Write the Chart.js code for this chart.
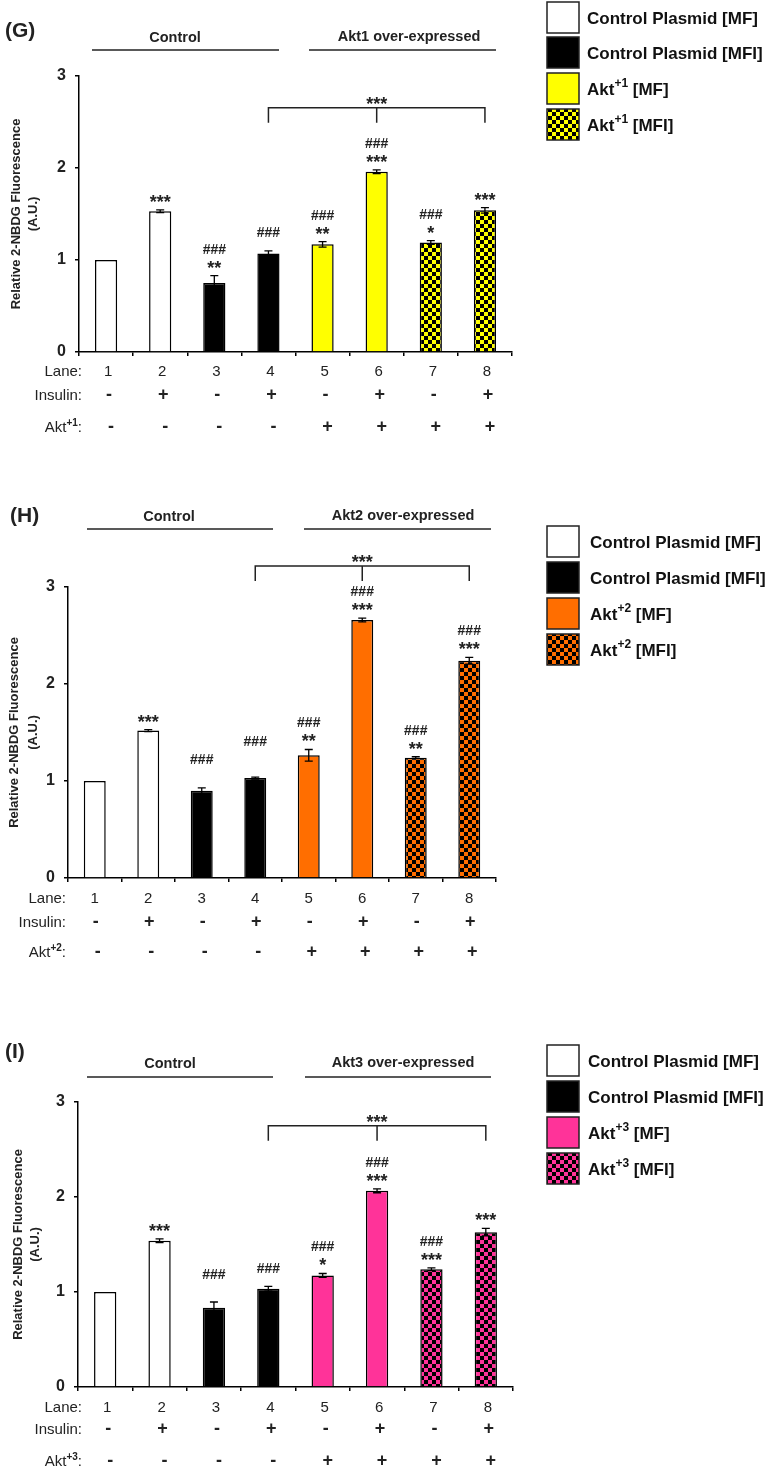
<!DOCTYPE html>
<html lang="en">
<head>
<meta charset="UTF-8">
<title>Relative 2-NBDG Fluorescence - Akt over-expression</title>
<script src="https://cdn.jsdelivr.net/npm/chart.js"></script>
<style>
    body { margin: 0; background: #fff; }
    .page { position: relative; width: 770px; height: 1472px; }
    .page canvas { position: absolute; left: 0; }
</style>
</head>
<body>
<div class="page">
    <canvas id="chartG" width="770" height="480" style="top:0px"></canvas>
    <canvas id="chartH" width="770" height="500" style="top:480px"></canvas>
    <canvas id="chartI" width="770" height="492" style="top:980px"></canvas>
</div>
<script>
// ---- data ----
const lanes = ['1', '2', '3', '4', '5', '6', '7', '8'];
const insulinRow = ['-', '+', '-', '+', '-', '+', '-', '+'];
const aktRow = ['-', '-', '-', '-', '+', '+', '+', '+'];
const laneGroup = [0, 0, 1, 1, 2, 2, 3, 3];   // which legend entry each lane belongs to
const yTicks = [0, 1, 2, 3];
const yTitle = ['Relative 2-NBDG Fluorescence', '(A.U.)'];
const bracketLanes = [3, 5, 7];
const bracketMark = '***';

const akt1Values = [1.00, 1.53, 0.75, 1.07, 1.17, 1.96, 1.19, 1.54];
const akt1Errors = [0, 0.015, 0.08, 0.03, 0.03, 0.02, 0.02, 0.03];
const akt1Marks = [[], ['***'], ['###', '**'], ['###'], ['###', '**'], ['###', '***'], ['###', '*'], ['***']];
const akt1Legend = ['Control Plasmid [MF]', 'Control Plasmid [MFI]', 'Akt^+1^ [MF]', 'Akt^+1^ [MFI]'];
const akt1Groups = ['Control', 'Akt1 over-expressed'];
const akt1RowLabels = ['Lane:', 'Insulin:', 'Akt^+1^:'];

const akt2Values = [1.00, 1.52, 0.90, 1.03, 1.265, 2.66, 1.24, 2.24];
const akt2Errors = [0, 0.01, 0.03, 0.01, 0.06, 0.02, 0.01, 0.035];
const akt2Marks = [[], ['***'], ['###'], ['###'], ['###', '**'], ['###', '***'], ['###', '**'], ['###', '***']];
const akt2Legend = ['Control Plasmid [MF]', 'Control Plasmid [MFI]', 'Akt^+2^ [MF]', 'Akt^+2^ [MFI]'];
const akt2Groups = ['Control', 'Akt2 over-expressed'];
const akt2RowLabels = ['Lane:', 'Insulin:', 'Akt^+2^:'];

const akt3Values = [1.00, 1.54, 0.835, 1.035, 1.175, 2.065, 1.24, 1.63];
const akt3Errors = [0, 0.02, 0.06, 0.025, 0.02, 0.02, 0.015, 0.04];
const akt3Marks = [[], ['***'], ['###'], ['###'], ['###', '*'], ['###', '***'], ['###', '***'], ['***']];
const akt3Legend = ['Control Plasmid [MF]', 'Control Plasmid [MFI]', 'Akt^+3^ [MF]', 'Akt^+3^ [MFI]'];
const akt3Groups = ['Control', 'Akt3 over-expressed'];
const akt3RowLabels = ['Lane:', 'Insulin:', 'Akt^+3^:'];

const FONT = '"Liberation Sans", Arial, sans-serif';
Chart.defaults.font.family = FONT;

// black / colour checker fill for the MFI bars
function checker(color) {
    const c = document.createElement('canvas');
    c.width = 8; c.height = 8;
    const g = c.getContext('2d');
    g.fillStyle = color; g.fillRect(0, 0, 8, 8);
    g.fillStyle = '#000'; g.fillRect(0, 0, 4, 4); g.fillRect(4, 4, 4, 4);
    return g.createPattern(c, 'repeat');
}

// text with ^superscript^ parts, drawn with textBaseline middle
function richText(ctx, str, x, y, size, weight, align) {
    const parts = str.split('^');
    const fonts = parts.map((_, k) => k % 2 ? `bold ${Math.round(size * 0.68)}px ${FONT}` : `${weight} ${size}px ${FONT}`);
    let w = 0;
    parts.forEach((t, k) => { ctx.font = fonts[k]; w += ctx.measureText(t).width; });
    let cx = align === 'right' ? x - w : align === 'center' ? x - w / 2 : x;
    ctx.textAlign = 'left';
    ctx.textBaseline = 'middle';
    parts.forEach((t, k) => {
        ctx.font = fonts[k];
        ctx.fillText(t, cx, k % 2 ? y - size * 0.35 : y);
        cx += ctx.measureText(t).width;
    });
}

const panels = [
    { id: 'chartG', top: 0, height: 480, area: { left: 79, right: 512, top: 76, bottom: 352 },
      letter: '(G)', letterX: 5, letterY: 31, color: '#ffff00',
      values: akt1Values, errors: akt1Errors, marks: akt1Marks, legend: akt1Legend, groups: akt1Groups, rowLabels: akt1RowLabels,
      heads: [{ x: 175, y: 38, from: 92, to: 279 }, { x: 409, y: 37, from: 309, to: 496 }], headLineY: 50,
      yTitleX: [16.5, 33], legendX: 547, legendTextX: 587, legendTops: [2, 37, 73, 109], bracketAt: 2.655,
      rowDy: [20, 44, 76], labelX: 82, shift: 2, lift: [0, 0, 0, 7, 0, 0, 0, 0] },
    { id: 'chartH', top: 480, height: 500, area: { left: 68, right: 496, top: 587, bottom: 878 },
      letter: '(H)', letterX: 10, letterY: 516, color: '#ff6e00',
      values: akt2Values, errors: akt2Errors, marks: akt2Marks, legend: akt2Legend, groups: akt2Groups, rowLabels: akt2RowLabels,
      heads: [{ x: 169, y: 517, from: 87, to: 273 }, { x: 403, y: 516, from: 304, to: 491 }], headLineY: 529,
      yTitleX: [14, 33], legendX: 547, legendTextX: 590, legendTops: [526, 562, 598, 634], bracketAt: 3.216,
      rowDy: [21, 45, 75], labelX: 66, shift: 0, lift: [0, 0, 17, 24, 0, 0, 0, 0] },
    { id: 'chartI', top: 980, height: 492, area: { left: 78, right: 513, top: 1102, bottom: 1387 },
      letter: '(I)', letterX: 5, letterY: 1052, color: '#ff3399',
      values: akt3Values, errors: akt3Errors, marks: akt3Marks, legend: akt3Legend, groups: akt3Groups, rowLabels: akt3RowLabels,
      heads: [{ x: 170, y: 1064, from: 87, to: 273 }, { x: 403, y: 1063, from: 305, to: 491 }], headLineY: 1077,
      yTitleX: [18, 35], legendX: 547, legendTextX: 588, legendTops: [1045, 1081, 1117, 1153], bracketAt: 2.75,
      rowDy: [21, 43, 75], labelX: 82, shift: 2, lift: [0, 0, 16, 6, 0, 0, 0, 0] }
];

function makePlugin(p, fills) {
    return {
        id: 'figure',
        afterDatasetsDraw(chart) {
            // error bars
            const ctx = chart.ctx, x = chart.scales.x, y = chart.scales.y;
            ctx.save();
            ctx.strokeStyle = '#000';
            ctx.lineWidth = 1.3;
            p.values.forEach((v, i) => {
                const e = p.errors[i];
                if (!e) return;
                const px = x.getPixelForValue(i);
                const top = y.getPixelForValue(v + e), bot = y.getPixelForValue(v - e);
                ctx.beginPath();
                ctx.moveTo(px, top); ctx.lineTo(px, bot);
                ctx.moveTo(px - 4, top); ctx.lineTo(px + 4, top);
                ctx.moveTo(px - 4, bot); ctx.lineTo(px + 4, bot);
                ctx.stroke();
            });
            ctx.restore();
        },
        afterDraw(chart) {
            const ctx = chart.ctx, x = chart.scales.x, y = chart.scales.y, a = chart.chartArea;
            const T = p.top;
            ctx.save();
            ctx.fillStyle = '#222';
            ctx.strokeStyle = '#222';

            // panel letter
            ctx.font = `bold 21px ${FONT}`;
            ctx.textAlign = 'left'; ctx.textBaseline = 'middle';
            ctx.fillText(p.letter, p.letterX, p.letterY - T);

            // group headers
            ctx.lineWidth = 1.5;
            p.heads.forEach((h, k) => {
                ctx.font = `bold 14.5px ${FONT}`;
                ctx.textAlign = 'center';
                ctx.fillText(p.groups[k], h.x, h.y - T);
                ctx.beginPath();
                ctx.moveTo(h.from, p.headLineY - T); ctx.lineTo(h.to, p.headLineY - T);
                ctx.stroke();
            });

            // y axis title
            ctx.save();
            ctx.translate(0, (a.top + a.bottom) / 2);
            ctx.rotate(-Math.PI / 2);
            ctx.font = `bold 13px ${FONT}`;
            ctx.textAlign = 'center';
            yTitle.forEach((t, k) => ctx.fillText(t, 0, p.yTitleX[k]));
            ctx.restore();

            // significance marks above each bar
            ctx.fillStyle = '#222';
            ctx.textAlign = 'center'; ctx.textBaseline = 'alphabetic';
            p.marks.forEach((lines, i) => {
                const px = x.getPixelForValue(i);
                let c = y.getPixelForValue(p.values[i] + p.errors[i]) - 12 - p.lift[i];
                for (let k = lines.length - 1; k >= 0; k--) {
                    const star = lines[k][0] === '*';
                    ctx.font = star ? `bold 18px ${FONT}` : `bold 14px ${FONT}`;
                    ctx.fillText(lines[k], px, c + (star ? 10 : 5));
                    c -= 15;
                }
            });

            // comparison bracket
            const by = y.getPixelForValue(p.bracketAt);
            const bx = bracketLanes.map(i => x.getPixelForValue(i));
            ctx.lineWidth = 1.5;
            ctx.beginPath();
            ctx.moveTo(bx[0], by + 15); ctx.lineTo(bx[0], by); ctx.lineTo(bx[2], by); ctx.lineTo(bx[2], by + 15);
            ctx.moveTo(bx[1], by); ctx.lineTo(bx[1], by + 15);
            ctx.stroke();
            ctx.font = `bold 18px ${FONT}`;
            ctx.fillText(bracketMark, bx[1], by + 2);

            // treatment table under the axis
            const rows = [lanes, insulinRow, aktRow];
            rows.forEach((cells, r) => {
                const ry = a.bottom + p.rowDy[r];
                ctx.fillStyle = '#222';
                richText(ctx, p.rowLabels[r], p.labelX, ry, 15, 'normal', 'right');
                ctx.textAlign = 'center'; ctx.textBaseline = 'middle';
                ctx.font = r === 0 ? `15px ${FONT}` : `bold 18px ${FONT}`;
                cells.forEach((t, i) => {
                    ctx.fillText(t, x.getPixelForValue(i) + p.shift + [0, 1, 3][r], ry + (r === 0 ? 0 : -1));
                });
            });

            // legend
            p.legend.forEach((name, k) => {
                const top = p.legendTops[k] - T;
                ctx.fillStyle = fills[k];
                ctx.fillRect(p.legendX, top, 32, 31);
                ctx.strokeStyle = '#222';
                ctx.lineWidth = 1.5;
                ctx.strokeRect(p.legendX, top, 32, 31);
                ctx.fillStyle = '#111';
                richText(ctx, name, p.legendTextX, top + 17, 17, 'bold', 'left');
            });
            ctx.restore();
        }
    };
}

panels.forEach(p => {
    const fills = ['#ffffff', '#000000', p.color, checker(p.color)];
    const top = p.area.top - p.top;
    const bottom = p.area.bottom - p.top;
    new Chart(document.getElementById(p.id), {
        type: 'bar',
        data: {
            labels: lanes,
            datasets: [{
                data: p.values,
                backgroundColor: laneGroup.map(g => fills[g]),
                borderColor: '#000',
                borderWidth: 1.5,
                barPercentage: 0.41,
                categoryPercentage: 1
            }]
        },
        options: {
            responsive: false,
            animation: false,
            layout: { padding: { left: 0, right: 770 - p.area.right, top: top, bottom: p.height - bottom - 10 } },
            plugins: { legend: { display: false }, tooltip: { enabled: false } },
            scales: {
                x: {
                    ticks: { display: false },
                    grid: { drawOnChartArea: false, tickLength: 4, color: '#000', lineWidth: 1.5 },
                    border: { color: '#000', width: 1.5 },
                    afterFit: s => { s.height = 10; }
                },
                y: {
                    min: 0, max: 3,
                    afterBuildTicks: s => { s.ticks = yTicks.map(v => ({ value: v })); },
                    ticks: { color: '#222', padding: 9, font: { size: 16, weight: 'bold' } },
                    grid: { drawOnChartArea: false, tickLength: 4, color: '#000', lineWidth: 1.5 },
                    border: { color: '#000', width: 1.5 },
                    afterFit: s => { s.width = p.area.left; }
                }
            }
        },
        plugins: [makePlugin(p, fills)]
    });
});
</script>
</body>
</html>
